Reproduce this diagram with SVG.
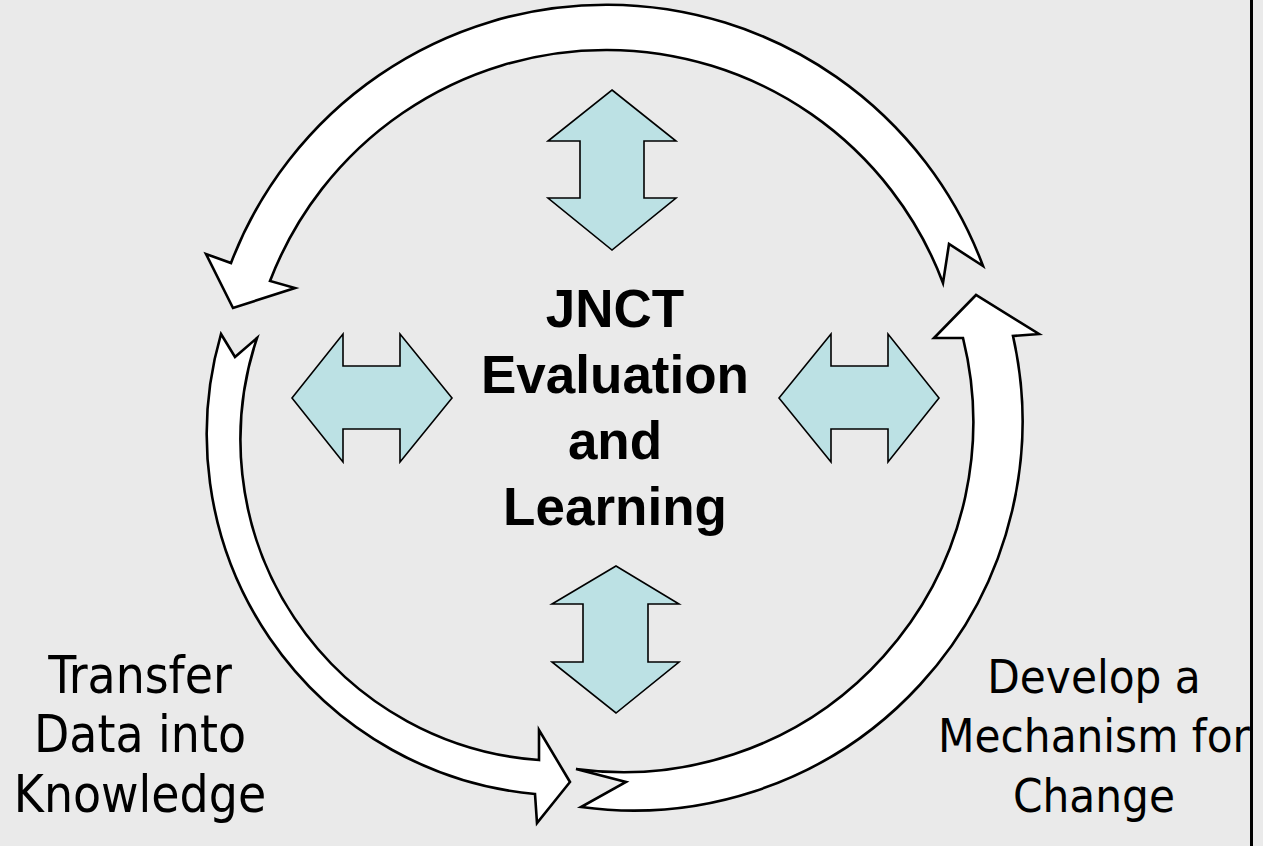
<svg xmlns="http://www.w3.org/2000/svg" width="1263" height="846" viewBox="0 0 1263 846">
<style>
.band{fill:#ffffff;stroke:#000;stroke-width:2.6;stroke-linejoin:miter}
.dbl{fill:#BCE1E4;stroke:#000;stroke-width:1.6;stroke-linejoin:miter}
.title{font-family:"Liberation Sans",Arial,sans-serif;font-weight:bold;font-size:53px;fill:#000;text-anchor:middle}
.lbl{font-family:"DejaVu Sans Condensed","DejaVu Sans",sans-serif;font-stretch:condensed;font-size:51px;fill:#000;text-anchor:middle}
.lblr{font-family:"DejaVu Sans Condensed","DejaVu Sans",sans-serif;font-stretch:condensed;font-size:47px;fill:#000;text-anchor:middle}
</style>
<rect x="0" y="0" width="1263" height="846" fill="#EAEAEA"/>
<line x1="1251.5" y1="0" x2="1251.5" y2="846" stroke="#000" stroke-width="3"/>
<g id="cycle">
<path id="arc-top" class="band" d="M983,266 L949,244 L943,283 A360,360 0 0 0 270,281 L295,288 L233,308 L206,254 L231,263 A402,402 0 0 1 983,266 Z"/>
<path id="arc-right" class="band" d="M576,769 L626,782 L581,807 A389,389 0 0 0 1013,336 L1039,334 L976,295 L934,338 L963,338 A350,350 0 0 1 576,769 Z"/>
<path id="arc-left" class="band" d="M221,334 L235,357 L257,338 A321,321 0 0 0 539,760 L539,730 L570,782 L537,823 L535,794 A361,361 0 0 1 221,334 Z"/>
</g>
<g id="arrow-top"><path class="dbl" d="M612,90 L676,141 L644,141 L644,198 L676,198 L612,250 L548,198 L580,198 L580,141 L548,141 Z"/></g>
<g id="arrow-bottom"><path class="dbl" d="M616,566 L679,604 L648,604 L648,662 L679,662 L616,713 L552,662 L583,662 L583,604 L552,604 Z"/></g>
<g id="arrow-left"><path class="dbl" d="M292,398 L343,334 L343,366 L400,366 L400,334 L452,398 L400,462 L400,429 L343,429 L343,462 Z"/></g>
<g id="arrow-right"><path class="dbl" d="M779,398 L831,334 L831,366 L888,366 L888,334 L939,398 L888,462 L888,429 L831,429 L831,462 Z"/></g>
<g id="center">
<text class="title" x="615" y="327">JNCT</text>
<text class="title" x="615" y="393">Evaluation</text>
<text class="title" x="615" y="459">and</text>
<text class="title" x="615" y="525">Learning</text>
</g>
<g id="label-left">
<text class="lbl" x="140" y="693">Transfer</text>
<text class="lbl" x="140" y="752">Data into</text>
<text class="lbl" x="140" y="812">Knowledge</text>
</g>
<g id="label-right">
<text class="lblr" x="1094" y="693">Develop a</text>
<text class="lblr" x="1094" y="752">Mechanism for</text>
<text class="lblr" x="1094" y="812">Change</text>
</g>
</svg>
